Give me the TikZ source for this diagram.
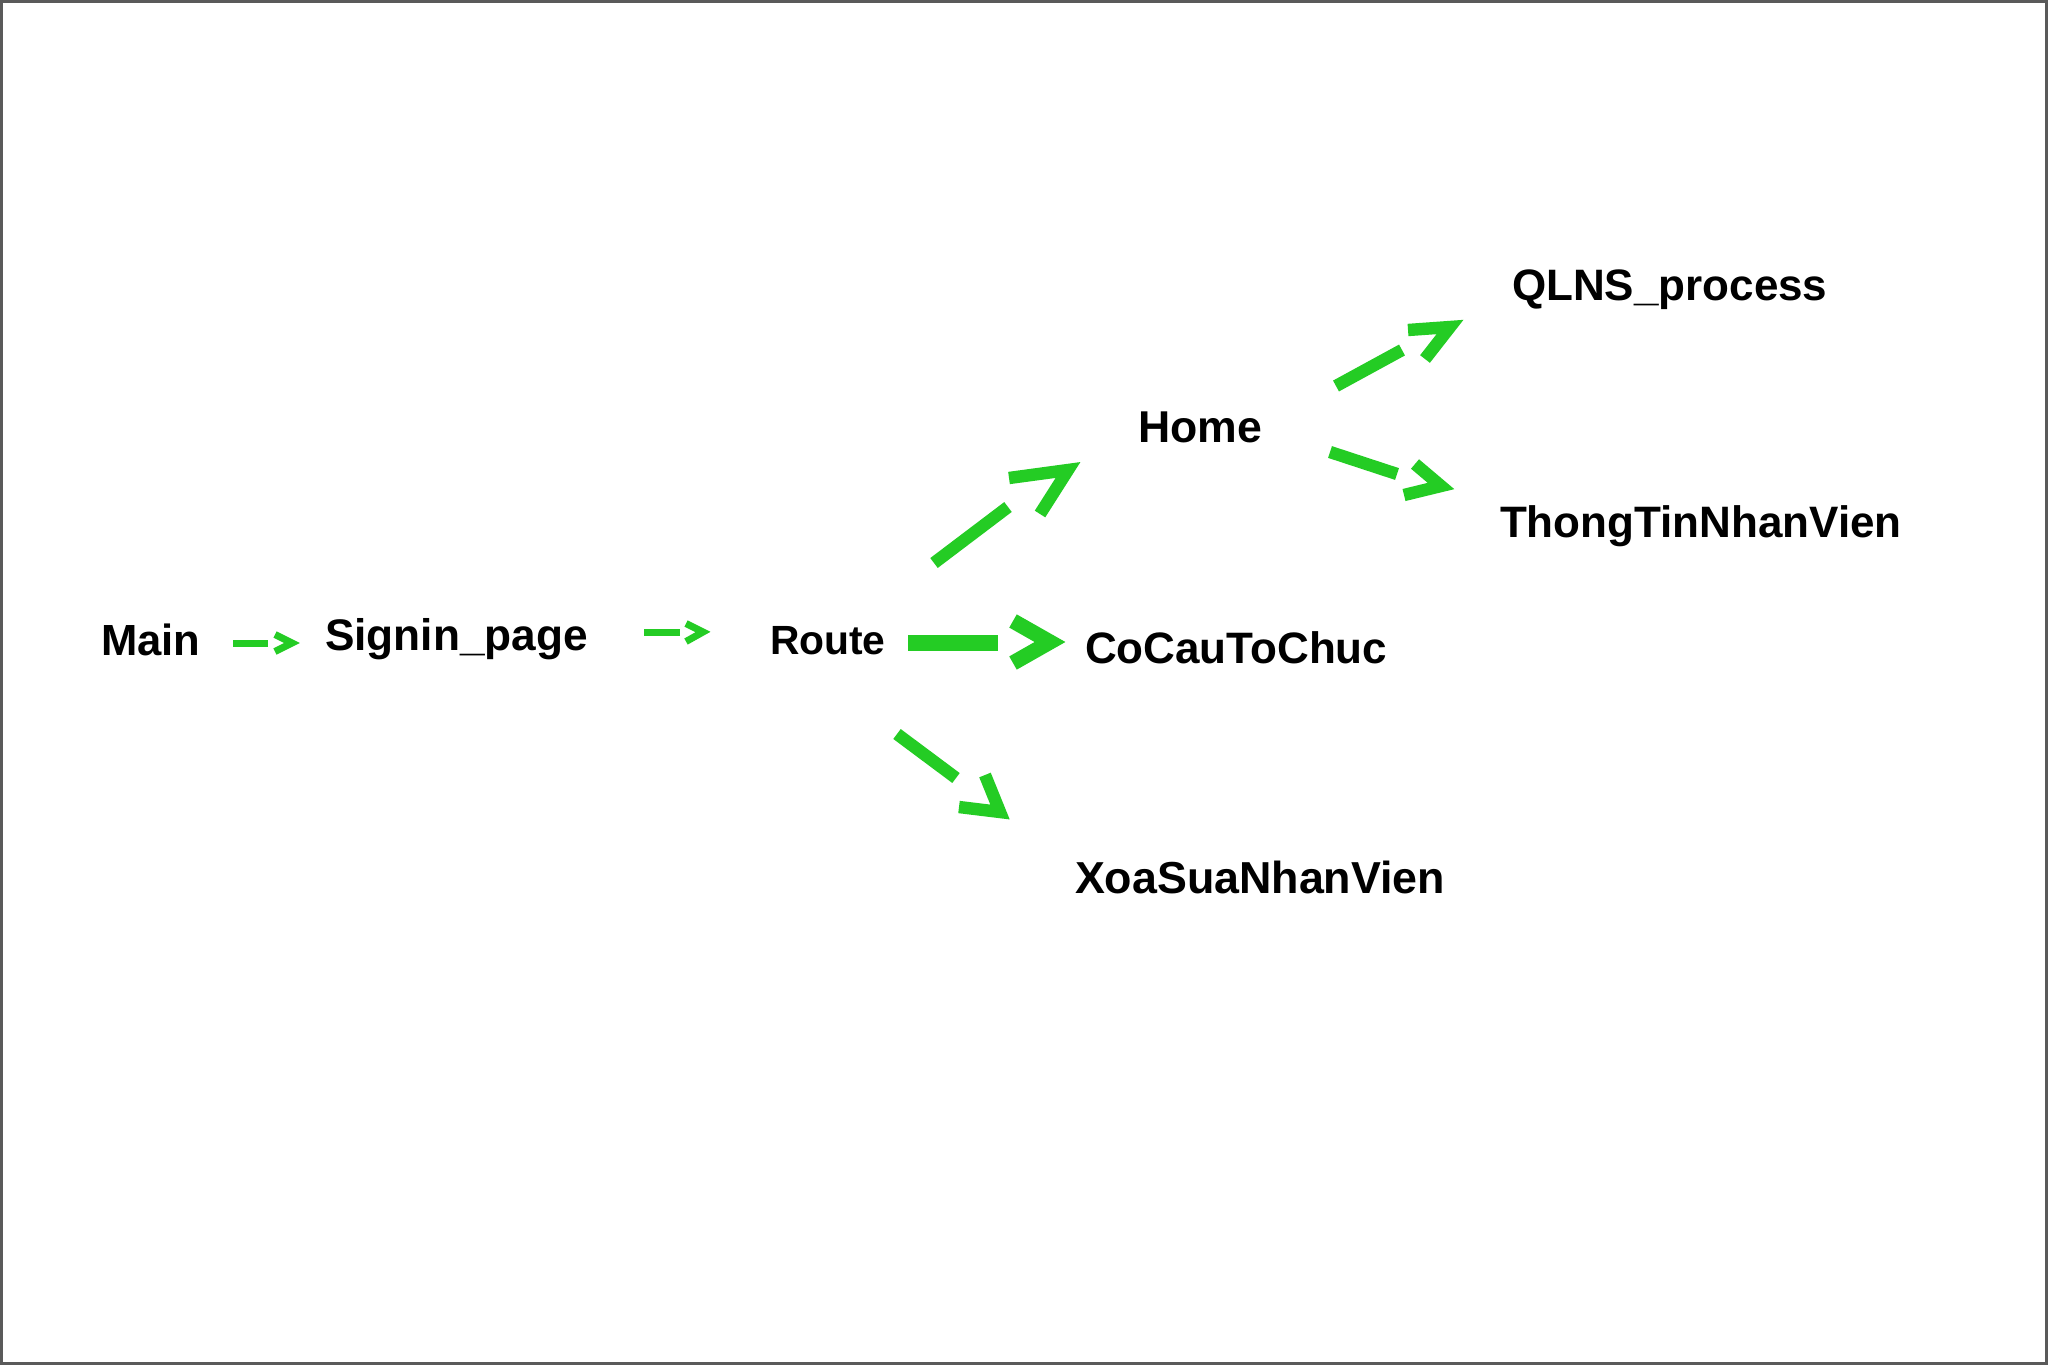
\documentclass[tikz,border=0pt]{standalone}
\usepackage{fontspec}
\setmainfont{Liberation Sans}
\definecolor{arrowgreen}{RGB}{36,204,36}
\definecolor{framegray}{RGB}{90,90,90}
\begin{document}
\begin{tikzpicture}[x=0.5pt,y=-0.5pt,
  lbl/.style={anchor=base west, inner sep=0pt, outer sep=0pt, font=\bfseries\fontsize{22}{26}\selectfont},
  shaft/.style={draw=arrowgreen, line cap=butt},
  chev/.style={draw=arrowgreen, line join=miter, miter limit=20, line cap=butt},
  thin/.style={line width=3.5pt},
  mid/.style={line width=6.2pt},
  thick/.style={line width=7.6pt}]
\useasboundingbox (0,0) rectangle (2048,1365);
\fill[white] (0,0) rectangle (2048,1365);
\draw[framegray, line width=1.3pt] (1.3,1.3) rectangle (2046.5,1363.7);

% labels
\node[lbl, font=\bfseries\fontsize{21.8}{26}\selectfont] (main) at (101,655) {Main};
\node[lbl, font=\bfseries\fontsize{22.1}{26}\selectfont] (signin) at (325,650) {Signin\_page};
\node[lbl, font=\bfseries\fontsize{20.4}{26}\selectfont] (route) at (770,654) {Route};
\node[lbl] (cocau) at (1085,663) {CoCauToChuc};
\node[lbl, font=\bfseries\fontsize{22.3}{26}\selectfont] (home) at (1138,442) {Home};
\node[lbl] (qlns) at (1512,300) {QLNS\_process};
\node[lbl] (thong) at (1500,537) {ThongTinNhanVien};
\node[lbl, font=\bfseries\fontsize{22.4}{26}\selectfont] (xoa) at (1075,893) {XoaSuaNhanVien};

% Main -> Signin_page
\coordinate (a1s) at (233,643); \coordinate (a1e) at (268,643);
\coordinate (a1u) at (275,634.5); \coordinate (a1t) at (292,643); \coordinate (a1l) at (275,651.5);
\draw[shaft,thin] (a1s) -- (a1e);
\draw[chev,thin] (a1u) -- (a1t) -- (a1l);

% Signin_page -> Route
\coordinate (a2s) at (644,632); \coordinate (a2e) at (680,632);
\coordinate (a2u) at (686,623.5); \coordinate (a2t) at (703,632); \coordinate (a2l) at (686,641.5);
\draw[shaft,thin] (a2s) -- (a2e);
\draw[chev,thin] (a2u) -- (a2t) -- (a2l);

% Route -> CoCauToChuc
\coordinate (a3s) at (908,643); \coordinate (a3e) at (998,643);
\coordinate (a3u) at (1013,621); \coordinate (a3t) at (1050,642); \coordinate (a3l) at (1013,663);
\draw[shaft,thick] (a3s) -- (a3e);
\draw[chev,thick] (a3u) -- (a3t) -- (a3l);

% Route -> Home
\coordinate (a4s) at (934,563); \coordinate (a4e) at (1008,507);
\coordinate (a4u) at (1009,478); \coordinate (a4t) at (1068,470); \coordinate (a4l) at (1040,514);
\draw[shaft,mid] (a4s) -- (a4e);
\draw[chev,mid] (a4u) -- (a4t) -- (a4l);

% Route -> XoaSuaNhanVien
\coordinate (a5s) at (897,734); \coordinate (a5e) at (956,778);
\coordinate (a5u) at (985,775); \coordinate (a5t) at (1000,812); \coordinate (a5l) at (959,807);
\draw[shaft,mid] (a5s) -- (a5e);
\draw[chev,mid] (a5u) -- (a5t) -- (a5l);

% Home -> QLNS_process
\coordinate (a6s) at (1336,386); \coordinate (a6e) at (1402,350);
\coordinate (a6u) at (1408,330); \coordinate (a6t) at (1450,327); \coordinate (a6l) at (1425,359);
\draw[shaft,mid] (a6s) -- (a6e);
\draw[chev,mid] (a6u) -- (a6t) -- (a6l);

% Home -> ThongTinNhanVien
\coordinate (a7s) at (1330,452); \coordinate (a7e) at (1397,474);
\coordinate (a7u) at (1415,464); \coordinate (a7t) at (1441,486); \coordinate (a7l) at (1404,495);
\draw[shaft,mid] (a7s) -- (a7e);
\draw[chev,mid] (a7u) -- (a7t) -- (a7l);
\end{tikzpicture}
\end{document}
